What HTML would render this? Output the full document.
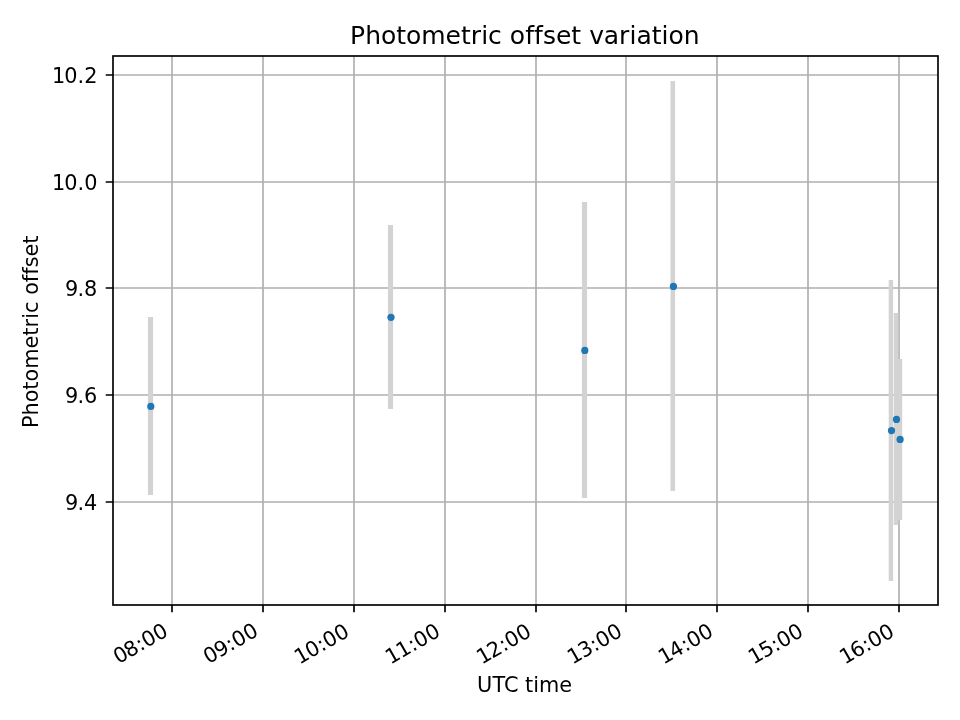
<!DOCTYPE html>
<html><head><meta charset="utf-8"><title>Photometric offset variation</title>
<style>html,body{margin:0;padding:0;background:#fff;width:960px;height:720px;overflow:hidden}svg{display:block}text{font-family:'DejaVu Sans', sans-serif;fill:#000}.s{font-size:20.8333px}.l{font-size:25px}</style></head><body>
<svg width="960" height="720" viewBox="0 0 960 720">
<rect width="960" height="720" fill="#fff"/>
<defs><clipPath id="ax"><rect x="113" y="56" width="825" height="549"/></clipPath></defs>
<path clip-path="url(#ax)" d="M172 605V56M263 605V56M354 605V56M445 605V56M536 605V56M626 605V56M717 605V56M808 605V56M899 605V56M113 75H938M113 182H938M113 288H938M113 395H938M113 502H938" fill="none" stroke="#b0b0b0" stroke-width="1.6667" stroke-linecap="square"/>
<g clip-path="url(#ax)" fill="#d3d3d3">
<rect x="147.9" y="317" width="5.2" height="178"/>
<rect x="387.9" y="225" width="5.2" height="184"/>
<rect x="581.9" y="202" width="5.2" height="296"/>
<rect x="670.5" y="81" width="4.6" height="410"/>
<rect x="888.7" y="280" width="4.4" height="301"/>
<rect x="893.7" y="313" width="4.6" height="212"/>
<rect x="897.6" y="359" width="4.6" height="161"/>
</g>
<g clip-path="url(#ax)" fill="#1f77b4">
<circle cx="150.8" cy="406.45" r="3.6"/>
<circle cx="391" cy="317.35" r="3.6"/>
<circle cx="584.8" cy="350.4" r="3.6"/>
<circle cx="673.45" cy="286.4" r="3.6"/>
<circle cx="891.5" cy="430.6" r="3.6"/>
<circle cx="896.5" cy="419.4" r="3.6"/>
<circle cx="900.1" cy="439.4" r="3.6"/>
</g>
<rect x="113" y="56" width="825" height="549" fill="none" stroke="#000" stroke-width="1.6667"/>
<path d="M172 605V612.29M263 605V612.29M354 605V612.29M445 605V612.29M536 605V612.29M626 605V612.29M717 605V612.29M808 605V612.29M899 605V612.29M113 75H105.71M113 182H105.71M113 288H105.71M113 395H105.71M113 502H105.71" fill="none" stroke="#000" stroke-width="1.6667"/>
<text class="s" transform="translate(117.592 664.858) rotate(-30)" x="1.00 13.25 26.50 33.52 46.77" y="0">08:00</text>
<text class="s" transform="translate(207.646 664.688) rotate(-30)" x="1.00 13.50 26.50 33.52 46.77" y="0">09:00</text>
<text class="s" transform="translate(298.855 665.195) rotate(-30)" x="0.75 13.25 26.50 33.27 46.52" y="0">10:00</text>
<text class="s" transform="translate(389.797 665.207) rotate(-30)" x="0.75 13.25 26.50 33.52 46.77" y="0">11:00</text>
<text class="s" transform="translate(480.987 665.184) rotate(-30)" x="0.75 13.00 26.25 33.27 46.52" y="0">12:00</text>
<text class="s" transform="translate(571.914 665.085) rotate(-30)" x="0.75 13.00 26.25 33.27 46.52" y="0">13:00</text>
<text class="s" transform="translate(662.781 665.182) rotate(-30)" x="0.75 13.00 26.50 33.52 46.77" y="0">14:00</text>
<text class="s" transform="translate(752.894 665.125) rotate(-30)" x="0.75 13.25 26.50 33.27 46.52" y="0">15:00</text>
<text class="s" transform="translate(843.988 665.174) rotate(-30)" x="0.75 13.00 26.25 33.27 46.52" y="0">16:00</text>
<text class="s" x="477.09 492.58 504.08 518.62 525.00 533.16 538.95 559.23" y="691.774">UTC time</text>
<text class="s" x="65.04 77.54 83.90" y="509.794">9.4</text>
<text class="s" x="64.91 77.41 84.02" y="403.169">9.6</text>
<text class="s" x="64.97 77.47 84.08" y="296.410">9.8</text>
<text class="s" x="52.07 64.32 77.57 84.18" y="189.725">10.0</text>
<text class="s" x="51.99 64.24 77.49 84.35" y="82.890">10.2</text>
<text class="s" transform="translate(37.897 331.762) rotate(-90)" x="-96.27 -83.72 -70.52 -58.02 -49.86 -37.11 -16.83 -4.00 4.16 12.97 18.77 30.45 37.08 49.58 57.00 64.42 75.28 88.09" y="0">Photometric offset</text>
<text class="l" x="349.97 365.29 380.88 396.18 405.99 421.29 445.38 461.02 470.82 481.35 488.04 502.29 509.74 525.27 533.90 543.01 556.02 571.16 580.96 589.16 603.71 619.02 629.55 636.49 651.82 661.61 668.57 683.86" y="44.416">Photometric offset variation</text>
</svg>
</body></html>
